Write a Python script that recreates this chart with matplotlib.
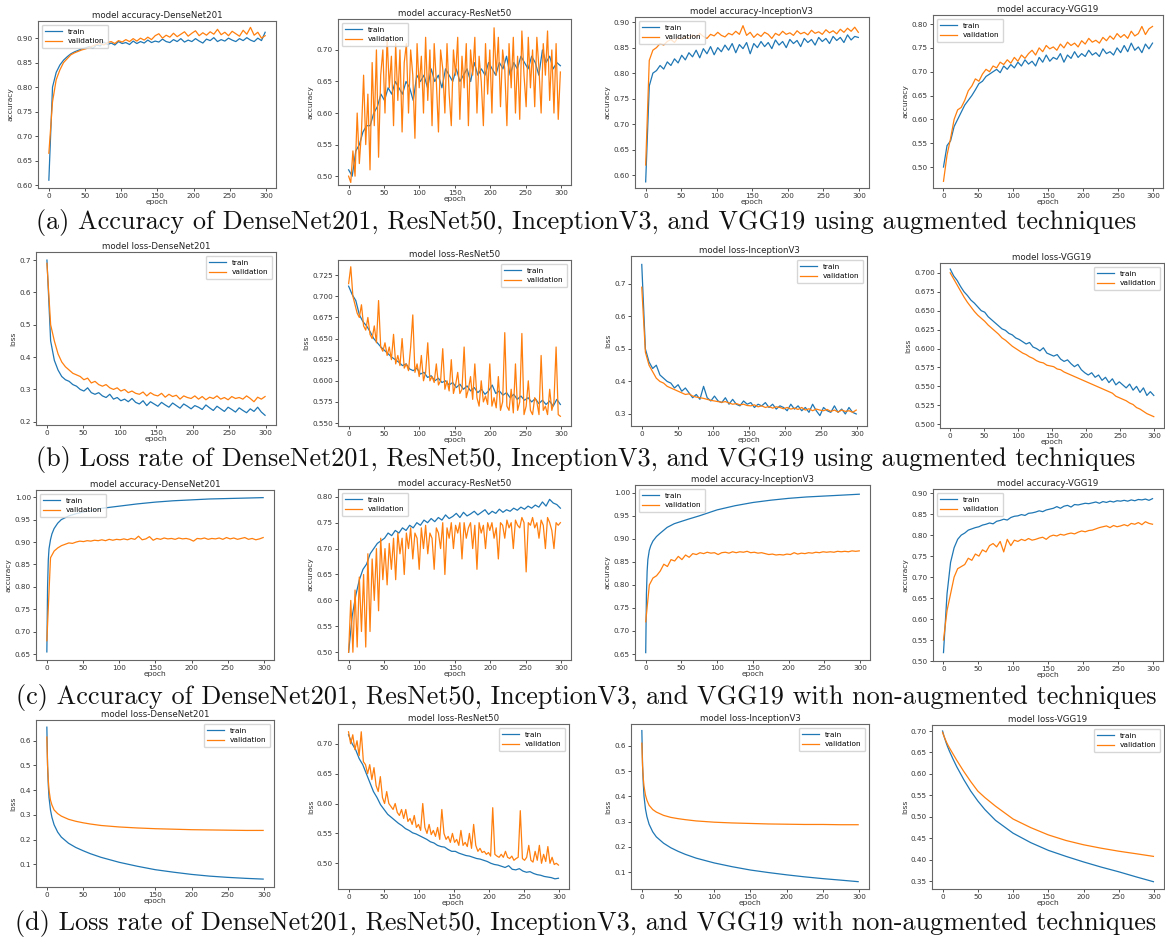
import numpy as np
import matplotlib.pyplot as plt
from matplotlib.ticker import MultipleLocator

E_SMOOTH = [0, 1, 2, 3, 5, 7, 10, 15, 20, 30, 40, 50, 60, 75, 100, 125, 150, 175, 200, 225, 250, 275, 299]

# (a) accuracy, augmented
acc_aug_dense_train = [0.61, 0.80, 0.83, 0.845, 0.855, 0.862, 0.868, 0.872, 0.875, 0.878,
                       0.880, 0.883, 0.879, 0.886, 0.884, 0.892, 0.887, 0.890, 0.886, 0.893,
                       0.889, 0.891, 0.887, 0.894, 0.889, 0.893, 0.890, 0.896, 0.891, 0.894,
                       0.892, 0.898, 0.893, 0.891, 0.897, 0.893, 0.899, 0.892, 0.896, 0.893,
                       0.899, 0.894, 0.890, 0.898, 0.895, 0.901, 0.893, 0.897, 0.894, 0.900,
                       0.896, 0.893, 0.899, 0.895, 0.901, 0.896, 0.893, 0.900, 0.895, 0.912]
acc_aug_dense_val = [0.665, 0.77, 0.815, 0.835, 0.850, 0.858, 0.866, 0.870, 0.873, 0.876,
                     0.878, 0.881, 0.884, 0.887, 0.889, 0.886, 0.891, 0.893, 0.889, 0.895,
                     0.892, 0.897, 0.893, 0.899, 0.894, 0.900, 0.896, 0.902, 0.897, 0.905,
                     0.909, 0.900, 0.906, 0.902, 0.910, 0.903, 0.908, 0.913, 0.904, 0.910,
                     0.915, 0.905, 0.911, 0.906, 0.913, 0.908, 0.918, 0.907, 0.912, 0.905,
                     0.914, 0.909, 0.904, 0.916, 0.908, 0.922, 0.906, 0.912, 0.900, 0.905]
acc_aug_res_train = [0.51, 0.50, 0.54, 0.55, 0.57, 0.58, 0.58, 0.60, 0.61, 0.63,
                     0.62, 0.64, 0.63, 0.65, 0.64, 0.63, 0.65, 0.64, 0.62, 0.66,
                     0.65, 0.66, 0.64, 0.67, 0.65, 0.66, 0.64, 0.67, 0.66, 0.65,
                     0.67, 0.65, 0.66, 0.67, 0.65, 0.68, 0.66, 0.67, 0.66, 0.68,
                     0.67, 0.66, 0.68, 0.67, 0.69, 0.66, 0.68, 0.67, 0.69, 0.68,
                     0.67, 0.69, 0.68, 0.66, 0.70, 0.68, 0.69, 0.67, 0.68, 0.675]
acc_aug_res_val = [0.50, 0.49, 0.54, 0.50, 0.60, 0.52, 0.57, 0.66, 0.55, 0.63,
                   0.51, 0.68, 0.58, 0.70, 0.53, 0.66, 0.70, 0.60, 0.72, 0.64,
                   0.69, 0.58, 0.71, 0.62, 0.70, 0.57, 0.68, 0.71, 0.60, 0.70,
                   0.66, 0.56, 0.71, 0.64, 0.69, 0.60, 0.72, 0.62, 0.70, 0.58,
                   0.71, 0.65, 0.57, 0.70, 0.67, 0.60, 0.71, 0.63, 0.58, 0.70,
                   0.66, 0.72, 0.59, 0.69, 0.64, 0.71, 0.58, 0.70, 0.66, 0.72,
                   0.60, 0.69, 0.65, 0.58, 0.71, 0.63, 0.70, 0.60, 0.735, 0.66,
                   0.72, 0.61, 0.70, 0.67, 0.58, 0.71, 0.64, 0.72, 0.60, 0.69,
                   0.59, 0.73, 0.66, 0.61, 0.72, 0.64, 0.70, 0.61, 0.72, 0.67,
                   0.60, 0.71, 0.66, 0.73, 0.62, 0.70, 0.60, 0.71, 0.59, 0.665]
acc_aug_inc_train = [0.587, 0.775, 0.800, 0.805, 0.815, 0.808, 0.822, 0.815, 0.828, 0.820,
                     0.835, 0.826, 0.840, 0.832, 0.845, 0.830, 0.848, 0.838, 0.852, 0.836,
                     0.850, 0.842, 0.855, 0.845, 0.858, 0.840, 0.856, 0.848, 0.860, 0.838,
                     0.858, 0.850, 0.862, 0.852, 0.860, 0.848, 0.865, 0.855, 0.862, 0.850,
                     0.866, 0.858, 0.864, 0.852, 0.868, 0.860, 0.866, 0.855, 0.870, 0.862,
                     0.868, 0.858, 0.872, 0.864, 0.870, 0.860, 0.875, 0.865, 0.872, 0.870]
acc_aug_inc_val = [0.62, 0.825, 0.845, 0.850, 0.858, 0.855, 0.862, 0.866, 0.860, 0.870,
                   0.866, 0.872, 0.868, 0.875, 0.870, 0.878, 0.872, 0.868, 0.876, 0.873,
                   0.880, 0.874, 0.871, 0.878, 0.875, 0.882, 0.876, 0.893, 0.874, 0.880,
                   0.870, 0.877, 0.872, 0.880, 0.876, 0.868, 0.878, 0.874, 0.882, 0.876,
                   0.879, 0.874, 0.883, 0.877, 0.880, 0.875, 0.884, 0.878, 0.881, 0.876,
                   0.885, 0.879, 0.883, 0.877, 0.886, 0.880, 0.888, 0.882, 0.890, 0.880]
acc_aug_vgg_train = [0.50, 0.545, 0.555, 0.585, 0.600, 0.615, 0.630, 0.640, 0.650, 0.662,
                     0.675, 0.680, 0.690, 0.695, 0.700, 0.705, 0.698, 0.712, 0.705, 0.715,
                     0.708, 0.720, 0.712, 0.725, 0.716, 0.722, 0.712, 0.730, 0.720, 0.735,
                     0.722, 0.730, 0.726, 0.738, 0.720, 0.735, 0.728, 0.742, 0.730, 0.738,
                     0.732, 0.745, 0.735, 0.740, 0.732, 0.748, 0.738, 0.742, 0.735, 0.750,
                     0.740, 0.755, 0.742, 0.760, 0.745, 0.752, 0.740, 0.758, 0.748, 0.760]
acc_aug_vgg_val = [0.47, 0.525, 0.560, 0.600, 0.620, 0.625, 0.640, 0.660, 0.670, 0.685,
                   0.680, 0.695, 0.705, 0.700, 0.712, 0.708, 0.720, 0.715, 0.725, 0.718,
                   0.730, 0.722, 0.735, 0.728, 0.738, 0.745, 0.735, 0.750, 0.742, 0.755,
                   0.748, 0.752, 0.745, 0.758, 0.750, 0.762, 0.755, 0.760, 0.752, 0.765,
                   0.758, 0.770, 0.762, 0.766, 0.760, 0.772, 0.765, 0.775, 0.768, 0.780,
                   0.772, 0.778, 0.770, 0.785, 0.775, 0.780, 0.795, 0.778, 0.790, 0.795]

# (b) loss, augmented
loss_aug_dense_train = [0.70, 0.45, 0.39, 0.36, 0.34, 0.33, 0.325, 0.315, 0.31, 0.30,
                        0.295, 0.305, 0.29, 0.285, 0.29, 0.28, 0.275, 0.285, 0.27, 0.275,
                        0.265, 0.27, 0.262, 0.272, 0.26, 0.255, 0.265, 0.25, 0.262, 0.255,
                        0.248, 0.26, 0.252, 0.245, 0.258, 0.25, 0.242, 0.255, 0.248, 0.24,
                        0.25, 0.245, 0.238, 0.252, 0.243, 0.235, 0.248, 0.24, 0.232, 0.245,
                        0.238, 0.23, 0.243, 0.235, 0.228, 0.24, 0.232, 0.245, 0.23, 0.22]
loss_aug_dense_val = [0.69, 0.50, 0.45, 0.41, 0.385, 0.37, 0.36, 0.35, 0.345, 0.34,
                      0.33, 0.335, 0.32, 0.325, 0.315, 0.31, 0.315, 0.305, 0.30, 0.305,
                      0.295, 0.30, 0.29, 0.295, 0.288, 0.285, 0.292, 0.28, 0.29, 0.283,
                      0.28, 0.288, 0.276, 0.285, 0.278, 0.282, 0.27, 0.28, 0.275, 0.272,
                      0.28, 0.27, 0.278, 0.268, 0.276, 0.272, 0.28, 0.27, 0.275, 0.268,
                      0.278, 0.272, 0.275, 0.27, 0.28, 0.272, 0.262, 0.276, 0.27, 0.278]
loss_aug_res_train = [0.712, 0.702, 0.695, 0.678, 0.670, 0.665, 0.658, 0.650, 0.645, 0.640,
                      0.636, 0.632, 0.628, 0.625, 0.622, 0.618, 0.620, 0.614, 0.612, 0.615,
                      0.608, 0.610, 0.604, 0.606, 0.600, 0.603, 0.598, 0.600, 0.595, 0.598,
                      0.592, 0.596, 0.590, 0.594, 0.588, 0.592, 0.586, 0.590, 0.584, 0.588,
                      0.595, 0.585, 0.588, 0.583, 0.586, 0.580, 0.584, 0.578, 0.582, 0.577,
                      0.580, 0.575, 0.579, 0.573, 0.577, 0.572, 0.576, 0.570, 0.578, 0.572]
loss_aug_res_val = [0.715, 0.735, 0.70, 0.69, 0.68, 0.675, 0.69, 0.665, 0.66, 0.675,
                    0.655, 0.65, 0.665, 0.645, 0.695, 0.64, 0.635, 0.645, 0.63, 0.64,
                    0.625, 0.655, 0.62, 0.63, 0.618, 0.65, 0.615, 0.62, 0.612, 0.64,
                    0.678, 0.61, 0.62, 0.605, 0.63, 0.60, 0.61, 0.645, 0.60, 0.605,
                    0.598, 0.62, 0.595, 0.60, 0.638, 0.59, 0.60, 0.588, 0.625, 0.585,
                    0.595, 0.61, 0.585, 0.59, 0.64, 0.58, 0.59, 0.605, 0.578, 0.62,
                    0.58, 0.57, 0.60, 0.575, 0.582, 0.572, 0.62, 0.57, 0.58, 0.568,
                    0.605, 0.565, 0.575, 0.657, 0.57, 0.565, 0.59, 0.562, 0.62, 0.565,
                    0.575, 0.656, 0.56, 0.57, 0.60, 0.565, 0.56, 0.58, 0.575, 0.56,
                    0.63, 0.565, 0.57, 0.56, 0.59, 0.565, 0.575, 0.64, 0.56, 0.558]
loss_aug_inc_train = [0.76, 0.50, 0.46, 0.44, 0.45, 0.42, 0.41, 0.40, 0.395, 0.38,
                      0.39, 0.37, 0.38, 0.365, 0.35, 0.36, 0.345, 0.385, 0.35, 0.34,
                      0.355, 0.34, 0.335, 0.35, 0.33, 0.345, 0.33, 0.325, 0.34, 0.33,
                      0.335, 0.32, 0.33, 0.325, 0.335, 0.32, 0.33, 0.315, 0.325, 0.32,
                      0.31, 0.33, 0.315, 0.325, 0.31, 0.32, 0.305, 0.33, 0.31, 0.295,
                      0.32, 0.31, 0.305, 0.325, 0.305, 0.315, 0.30, 0.32, 0.305, 0.30]
loss_aug_inc_val = [0.69, 0.49, 0.45, 0.43, 0.41, 0.40, 0.395, 0.385, 0.38, 0.375,
                    0.37, 0.365, 0.36, 0.362, 0.355, 0.352, 0.35, 0.348, 0.345, 0.342,
                    0.34, 0.338, 0.336, 0.338, 0.334, 0.33, 0.332, 0.328, 0.33, 0.326,
                    0.325, 0.328, 0.322, 0.325, 0.32, 0.323, 0.318, 0.322, 0.32, 0.316,
                    0.32, 0.315, 0.318, 0.314, 0.32, 0.312, 0.316, 0.31, 0.315, 0.312,
                    0.31, 0.314, 0.308, 0.312, 0.306, 0.312, 0.308, 0.31, 0.305, 0.312]
loss_aug_vgg_train = [0.705, 0.696, 0.690, 0.682, 0.675, 0.670, 0.664, 0.660, 0.655, 0.650,
                      0.648, 0.642, 0.638, 0.634, 0.630, 0.626, 0.624, 0.620, 0.618, 0.614,
                      0.612, 0.609, 0.606, 0.608, 0.602, 0.600, 0.597, 0.601, 0.594, 0.592,
                      0.590, 0.592, 0.586, 0.583, 0.585, 0.580, 0.576, 0.579, 0.572, 0.568,
                      0.565, 0.568, 0.562, 0.565, 0.558, 0.562, 0.555, 0.560, 0.552, 0.556,
                      0.552, 0.548, 0.553, 0.545, 0.550, 0.542, 0.548, 0.538, 0.543, 0.538]
loss_aug_vgg_val = [0.700, 0.692, 0.684, 0.676, 0.668, 0.661, 0.655, 0.649, 0.644, 0.640,
                    0.636, 0.631, 0.627, 0.623, 0.619, 0.614, 0.611, 0.607, 0.603, 0.600,
                    0.597, 0.594, 0.592, 0.589, 0.587, 0.584, 0.582, 0.581, 0.578, 0.577,
                    0.576, 0.573, 0.572, 0.569, 0.567, 0.565, 0.563, 0.561, 0.559, 0.557,
                    0.555, 0.553, 0.551, 0.549, 0.547, 0.545, 0.543, 0.541, 0.537, 0.535,
                    0.533, 0.531, 0.528, 0.526, 0.522, 0.520, 0.517, 0.514, 0.512, 0.510]

# (c) accuracy, non-augmented
acc_non_dense_train = [0.655, 0.80, 0.86, 0.885, 0.905, 0.918, 0.93, 0.942, 0.95, 0.958, 0.963, 0.967,
                       0.970, 0.975, 0.980, 0.985, 0.989, 0.992, 0.994, 0.996, 0.997, 0.998, 0.999]
acc_non_dense_val = [0.68, 0.865, 0.880, 0.887, 0.892, 0.895, 0.898, 0.897, 0.900, 0.902,
                     0.901, 0.903, 0.902, 0.904, 0.903, 0.905, 0.903, 0.906, 0.904, 0.906,
                     0.905, 0.907, 0.905, 0.908, 0.906, 0.913, 0.905, 0.907, 0.912, 0.904,
                     0.908, 0.906, 0.909, 0.907, 0.908, 0.906, 0.909, 0.907, 0.908, 0.906,
                     0.902, 0.908, 0.907, 0.909, 0.906, 0.908, 0.907, 0.909, 0.906, 0.910,
                     0.907, 0.909, 0.906, 0.908, 0.910, 0.906, 0.908, 0.905, 0.907, 0.910]
acc_non_res_train = [0.50, 0.57, 0.61, 0.64, 0.66, 0.67, 0.69, 0.70, 0.71, 0.715,
                     0.72, 0.73, 0.725, 0.735, 0.73, 0.74, 0.735, 0.745, 0.74, 0.75,
                     0.745, 0.755, 0.75, 0.758, 0.752, 0.76, 0.755, 0.765, 0.758, 0.762,
                     0.768, 0.76, 0.77, 0.763, 0.767, 0.772, 0.765, 0.77, 0.775, 0.766,
                     0.772, 0.768, 0.776, 0.77, 0.775, 0.772, 0.778, 0.774, 0.78, 0.776,
                     0.782, 0.778, 0.784, 0.78, 0.79, 0.782, 0.795, 0.788, 0.785, 0.778]
acc_non_res_val = [0.50, 0.60, 0.50, 0.62, 0.51, 0.645, 0.54, 0.65, 0.51, 0.69,
                   0.54, 0.68, 0.60, 0.70, 0.58, 0.72, 0.64, 0.70, 0.63, 0.71,
                   0.66, 0.72, 0.64, 0.73, 0.69, 0.72, 0.65, 0.73, 0.70, 0.74,
                   0.68, 0.73, 0.72, 0.66, 0.74, 0.70, 0.745, 0.69, 0.73, 0.72,
                   0.66, 0.74, 0.73, 0.70, 0.75, 0.65, 0.74, 0.72, 0.75, 0.70,
                   0.745, 0.73, 0.75, 0.68, 0.75, 0.72, 0.74, 0.75, 0.70, 0.745,
                   0.66, 0.75, 0.73, 0.745, 0.70, 0.75, 0.735, 0.75, 0.72, 0.74,
                   0.68, 0.75, 0.745, 0.72, 0.755, 0.74, 0.75, 0.70, 0.755, 0.745,
                   0.74, 0.76, 0.75, 0.655, 0.75, 0.745, 0.76, 0.74, 0.75, 0.72,
                   0.755, 0.745, 0.70, 0.76, 0.75, 0.735, 0.70, 0.75, 0.745, 0.75]
acc_non_inc_train = [0.653, 0.78, 0.83, 0.855, 0.875, 0.885, 0.895, 0.905, 0.912, 0.925, 0.933, 0.938,
                     0.943, 0.95, 0.963, 0.972, 0.979, 0.984, 0.988, 0.991, 0.993, 0.995, 0.997]
acc_non_inc_val = [0.72, 0.80, 0.815, 0.82, 0.83, 0.845, 0.84, 0.855, 0.852, 0.862,
                   0.855, 0.865, 0.86, 0.868, 0.866, 0.870, 0.868, 0.871, 0.869, 0.870,
                   0.866, 0.870, 0.871, 0.869, 0.872, 0.870, 0.872, 0.871, 0.873, 0.870,
                   0.871, 0.869, 0.870, 0.868, 0.866, 0.867, 0.865, 0.866, 0.865, 0.867,
                   0.866, 0.870, 0.867, 0.869, 0.868, 0.870, 0.869, 0.871, 0.870, 0.872,
                   0.871, 0.872, 0.871, 0.873, 0.872, 0.873, 0.872, 0.874, 0.873, 0.874]
acc_non_vgg_train = [0.52, 0.66, 0.735, 0.77, 0.79, 0.80, 0.805, 0.812, 0.815, 0.818,
                     0.82, 0.824, 0.826, 0.829, 0.827, 0.833, 0.835, 0.838, 0.836, 0.842,
                     0.845, 0.846, 0.849, 0.847, 0.852, 0.853, 0.855, 0.858, 0.856, 0.860,
                     0.862, 0.864, 0.868, 0.864, 0.869, 0.871, 0.867, 0.873, 0.872, 0.874,
                     0.876, 0.875, 0.877, 0.879, 0.876, 0.880, 0.878, 0.881, 0.879, 0.882,
                     0.881, 0.883, 0.881, 0.884, 0.882, 0.885, 0.884, 0.886, 0.883, 0.887]
acc_non_vgg_val = [0.55, 0.62, 0.66, 0.70, 0.72, 0.725, 0.73, 0.745, 0.74, 0.755,
                   0.75, 0.765, 0.76, 0.775, 0.78, 0.772, 0.785, 0.76, 0.79, 0.775,
                   0.788, 0.785, 0.79, 0.787, 0.792, 0.788, 0.79, 0.793, 0.795, 0.79,
                   0.797, 0.80, 0.798, 0.802, 0.80, 0.803, 0.805, 0.803, 0.807, 0.81,
                   0.808, 0.811, 0.812, 0.815, 0.818, 0.82, 0.822, 0.818, 0.823, 0.82,
                   0.822, 0.825, 0.822, 0.828, 0.826, 0.83, 0.825, 0.832, 0.828, 0.826]

# (d) loss, non-augmented
loss_non_dense_train = [0.655, 0.50, 0.42, 0.37, 0.32, 0.29, 0.26, 0.23, 0.21, 0.185, 0.168, 0.155,
                        0.143, 0.128, 0.108, 0.092, 0.078, 0.068, 0.059, 0.052, 0.047, 0.043, 0.040]
loss_non_dense_val = [0.615, 0.50, 0.44, 0.40, 0.36, 0.34, 0.32, 0.305, 0.295, 0.282, 0.274, 0.268,
                      0.263, 0.257, 0.251, 0.247, 0.244, 0.242, 0.240, 0.239, 0.238, 0.237, 0.237]
loss_non_res_train = [0.715, 0.70, 0.69, 0.675, 0.665, 0.65, 0.635, 0.62, 0.61, 0.598,
                      0.59, 0.582, 0.577, 0.572, 0.567, 0.563, 0.558, 0.555, 0.551, 0.549,
                      0.546, 0.543, 0.540, 0.536, 0.534, 0.530, 0.528, 0.527, 0.523, 0.520,
                      0.520, 0.517, 0.515, 0.513, 0.512, 0.510, 0.508, 0.507, 0.505, 0.503,
                      0.500, 0.498, 0.497, 0.495, 0.493, 0.496, 0.490, 0.489, 0.491, 0.487,
                      0.485, 0.486, 0.483, 0.481, 0.480, 0.478, 0.477, 0.476, 0.474, 0.475]
loss_non_res_val = [0.72, 0.70, 0.715, 0.69, 0.705, 0.68, 0.72, 0.67, 0.665, 0.65,
                    0.665, 0.64, 0.66, 0.63, 0.62, 0.645, 0.61, 0.60, 0.62, 0.60,
                    0.595, 0.59, 0.60, 0.585, 0.58, 0.59, 0.575, 0.59, 0.57, 0.575,
                    0.565, 0.58, 0.56, 0.565, 0.555, 0.60, 0.56, 0.55, 0.565, 0.548,
                    0.555, 0.545, 0.56, 0.54, 0.59, 0.55, 0.54, 0.545, 0.535, 0.55,
                    0.535, 0.54, 0.53, 0.555, 0.53, 0.535, 0.528, 0.55, 0.525, 0.565,
                    0.53, 0.52, 0.525, 0.518, 0.52, 0.515, 0.518, 0.512, 0.593, 0.515,
                    0.512, 0.51, 0.515, 0.51, 0.52, 0.51, 0.508, 0.512, 0.505, 0.508,
                    0.51, 0.588, 0.508, 0.505, 0.51, 0.53, 0.505, 0.502, 0.52, 0.505,
                    0.53, 0.50, 0.515, 0.503, 0.528, 0.50, 0.51, 0.498, 0.50, 0.497]
loss_non_inc_train = [0.66, 0.52, 0.45, 0.40, 0.35, 0.32, 0.29, 0.26, 0.24, 0.215, 0.197, 0.183,
                      0.171, 0.156, 0.137, 0.122, 0.109, 0.099, 0.09, 0.082, 0.075, 0.069, 0.063]
loss_non_inc_val = [0.61, 0.52, 0.47, 0.44, 0.405, 0.385, 0.365, 0.348, 0.338, 0.325, 0.317, 0.312,
                    0.308, 0.303, 0.298, 0.295, 0.293, 0.291, 0.29, 0.289, 0.289, 0.288, 0.288]
loss_non_vgg_train = [0.70, 0.694, 0.688, 0.683, 0.673, 0.664, 0.652, 0.634, 0.617, 0.587, 0.56, 0.537,
                      0.517, 0.492, 0.462, 0.44, 0.422, 0.408, 0.395, 0.383, 0.372, 0.36, 0.349]
loss_non_vgg_val = [0.697, 0.692, 0.688, 0.684, 0.676, 0.669, 0.660, 0.646, 0.632, 0.606, 0.582, 0.560,
                    0.545, 0.525, 0.495, 0.475, 0.458, 0.445, 0.435, 0.427, 0.42, 0.414, 0.408]

captions = [
    "(a) Accuracy of DenseNet201, ResNet50, InceptionV3, and VGG19 using augmented techniques",
    "(b) Loss rate of DenseNet201, ResNet50, InceptionV3, and VGG19 using augmented techniques",
    "(c) Accuracy of DenseNet201, ResNet50, InceptionV3, and VGG19 with non-augmented techniques",
    "(d) Loss rate of DenseNet201, ResNet50, InceptionV3, and VGG19 with non-augmented techniques",
]

W, H = 1165, 938
fig = plt.figure(figsize=(W / 100, H / 100), dpi=100)


def epochs_for(vals):
    if len(vals) == len(E_SMOOTH):
        return E_SMOOTH
    return np.linspace(0, 299, len(vals))


def panel(box, train, val, title, ylabel, loc, ylim, ystep):
    l, t, r, b = box
    ax = fig.add_axes([l / W, 1 - b / H, (r - l) / W, (b - t) / H])
    ax.plot(epochs_for(train), train, color='#1f77b4', lw=0.9, label='train')
    ax.plot(epochs_for(val), val, color='#ff7f0e', lw=0.9, label='validation')
    ax.set_xlim(-15, 314)
    ax.set_ylim(*ylim)
    ax.xaxis.set_major_locator(MultipleLocator(50))
    ax.yaxis.set_major_locator(MultipleLocator(ystep))
    ax.set_title(title, fontsize=6.2, pad=2.5, color='#222222')
    ax.set_xlabel('epoch', fontsize=5.4, labelpad=0, color='#333333')
    ax.set_ylabel(ylabel, fontsize=5.4, labelpad=2, color='#333333')
    ax.tick_params(labelsize=5.2, length=2.5, width=0.6, pad=1.2, colors='#333333')
    for s in ax.spines.values():
        s.set_color('#666666')
        s.set_linewidth(0.8)
    ax.legend(loc=loc, fontsize=5.3, handlelength=2.3, borderpad=0.5,
              labelspacing=0.5, framealpha=0.8, edgecolor='#cccccc', fancybox=True)
    return ax


# row (a)
panel((38, 21, 276, 188), acc_aug_dense_train, acc_aug_dense_val, 'model accuracy-DenseNet201',
      'accuracy', 'upper left', (0.594, 0.935), 0.05)
panel((338, 19, 571, 185), acc_aug_res_train, acc_aug_res_val, 'model accuracy-ResNet50',
      'accuracy', 'upper left', (0.486, 0.749), 0.05)
panel((635, 17, 869, 188), acc_aug_inc_train, acc_aug_inc_val, 'model accuracy-InceptionV3',
      'accuracy', 'upper left', (0.575, 0.91), 0.05)
panel((933, 15, 1163, 188), acc_aug_vgg_train, acc_aug_vgg_val, 'model accuracy-VGG19',
      'accuracy', 'upper left', (0.456, 0.819), 0.05)

# row (b)
panel((36, 252, 276, 425), loss_aug_dense_train, loss_aug_dense_val, 'model loss-DenseNet201',
      'loss', 'upper right', (0.19, 0.725), 0.1)
panel((338, 260, 571, 426), loss_aug_res_train, loss_aug_res_val, 'model loss-ResNet50',
      'loss', 'upper right', (0.5465, 0.743), 0.025)
panel((631, 256, 867, 426), loss_aug_inc_train, loss_aug_inc_val, 'model loss-InceptionV3',
      'loss', 'upper right', (0.263, 0.786), 0.1)
panel((940, 263, 1164, 428), loss_aug_vgg_train, loss_aug_vgg_val, 'model loss-VGG19',
      'loss', 'upper right', (0.495, 0.713), 0.025)

# row (c)
panel((36, 490, 274, 660), acc_non_dense_train, acc_non_dense_val, 'model accuracy-DenseNet201',
      'accuracy', 'upper left', (0.637, 1.016), 0.05)
panel((338, 489, 571, 660), acc_non_res_train, acc_non_res_val, 'model accuracy-ResNet50',
      'accuracy', 'upper left', (0.485, 0.815), 0.05)
panel((635, 485, 870, 660), acc_non_inc_train, acc_non_inc_val, 'model accuracy-InceptionV3',
      'accuracy', 'upper left', (0.637, 1.017), 0.05)
panel((933, 489, 1163, 661), acc_non_vgg_train, acc_non_vgg_val, 'model accuracy-VGG19',
      'accuracy', 'upper left', (0.50, 0.91), 0.05)

# row (d)
panel((36, 720, 274, 887), loss_non_dense_train, loss_non_dense_val, 'model loss-DenseNet201',
      'loss', 'upper right', (0.008, 0.684), 0.1)
panel((338, 724, 569, 889), loss_non_res_train, loss_non_res_val, 'model loss-ResNet50',
      'loss', 'upper right', (0.457, 0.733), 0.05)
panel((631, 724, 869, 889), loss_non_inc_train, loss_non_inc_val, 'model loss-InceptionV3',
      'loss', 'upper right', (0.034, 0.686), 0.1)
panel((932, 725, 1164, 889), loss_non_vgg_train, loss_non_vgg_val, 'model loss-VGG19',
      'loss', 'upper right', (0.332, 0.714), 0.05)

# captions: size chosen so caption (a) spans about 1100 px
renderer = fig.canvas.get_renderer()
probe = fig.text(0, 0, captions[0], fontsize=20, family='cmr10')
w = probe.get_window_extent(renderer).width
probe.remove()
cap_size = 20 * 1100 / w
for cap, yc in zip(captions, [222, 459, 697, 923]):
    fig.text(586 / W, 1 - yc / H, cap, fontsize=cap_size, family='cmr10',
             ha='center', va='center', color='#111111')

fig.savefig('out.png', dpi=100)
